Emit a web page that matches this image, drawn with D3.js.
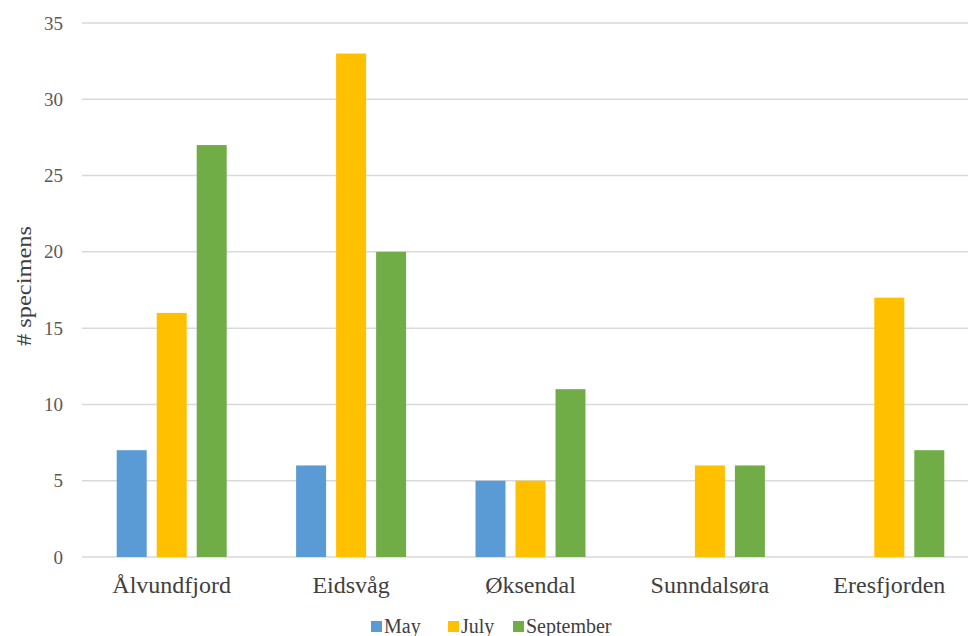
<!DOCTYPE html>
<html>
<head>
<meta charset="utf-8">
<script src="https://cdn.jsdelivr.net/npm/d3@7/dist/d3.min.js"></script>
<style>
  html, body { margin: 0; padding: 0; background: #fff; }
  svg { display: block; }
</style>
</head>
<body>
<svg id="chart" width="968" height="636"></svg>
<script>
// Specimen counts per site and sampling month
const sites = ["Ålvundfjord", "Eidsvåg", "Øksendal", "Sunndalsøra", "Eresfjorden"];
const months = ["May", "July", "September"];
const may = [7, 6, 5, 0, 0];
const july = [16, 33, 5, 6, 17];
const september = [27, 20, 11, 6, 7];
const yTicks = [0, 5, 10, 15, 20, 25, 30, 35];
const colors = ["#5b9bd5", "#ffc000", "#70ad47"];

const seriesValues = [may, july, september];

const svg = d3.select("#chart");
const W = 968, H = 636;
const plot = { left: 82, right: 979, top: 23, bottom: 557 };
const serif = "'Liberation Serif', 'Times New Roman', serif";

const x0 = d3.scaleBand().domain(sites).range([plot.left, plot.right]);
const x1 = d3.scaleBand().domain(months).range([0, 110]).paddingInner(0.25);
const y = d3.scaleLinear().domain([0, 35]).range([plot.bottom, plot.top]);

// horizontal gridlines
svg.append("g")
  .selectAll("line")
  .data(yTicks)
  .join("line")
  .attr("x1", plot.left).attr("x2", W)
  .attr("y1", d => y(d)).attr("y2", d => y(d))
  .attr("stroke", "#d9d9d9").attr("stroke-width", 1.5);

// y tick labels
const yAxis = d3.axisLeft(y).tickValues(yTicks).tickSize(0).tickPadding(19);
const gy = svg.append("g").attr("transform", `translate(${plot.left},0)`).call(yAxis);
gy.select(".domain").remove();
gy.selectAll("text")
  .attr("font-family", serif)
  .attr("font-size", 19)
  .attr("fill", "#595959");

// bars
const groups = svg.append("g")
  .selectAll("g")
  .data(sites)
  .join("g")
  .attr("transform", d => `translate(${x0(d) + x0.bandwidth() / 2 - 55},0)`);

groups.selectAll("rect")
  .data((d, i) => months.map((m, k) => ({ month: m, value: seriesValues[k][i], k })))
  .join("rect")
  .attr("x", d => x1(d.month))
  .attr("width", x1.bandwidth())
  .attr("y", d => y(d.value))
  .attr("height", d => y(0) - y(d.value))
  .attr("fill", d => colors[d.k]);

// category labels
const xAxis = d3.axisBottom(x0).tickSize(0).tickPadding(19);
const gx = svg.append("g").attr("transform", `translate(0,${y(0)})`).call(xAxis);
gx.select(".domain").remove();
gx.selectAll("text")
  .attr("font-family", serif)
  .attr("font-size", 24)
  .attr("fill", "#404040");

// y axis title
svg.append("text")
  .attr("transform", `translate(31,286) rotate(-90)`)
  .attr("text-anchor", "middle")
  .attr("font-family", serif)
  .attr("font-size", 20)
  .attr("textLength", 120)
  .attr("lengthAdjust", "spacingAndGlyphs")
  .attr("fill", "#404040")
  .text("# specimens");

// legend
const legendItems = [
  { label: "May", x: 371 },
  { label: "July", x: 448 },
  { label: "September", x: 513 }
];
const legend = svg.append("g");
legendItems.forEach((d, i) => {
  legend.append("rect")
    .attr("x", d.x).attr("y", 621)
    .attr("width", 11).attr("height", 11)
    .attr("fill", colors[i]);
  legend.append("text")
    .attr("x", d.x + 13).attr("y", 633)
    .attr("font-family", serif)
    .attr("font-size", 20)
    .attr("fill", "#404040")
    .text(d.label);
});
</script>
</body>
</html>
